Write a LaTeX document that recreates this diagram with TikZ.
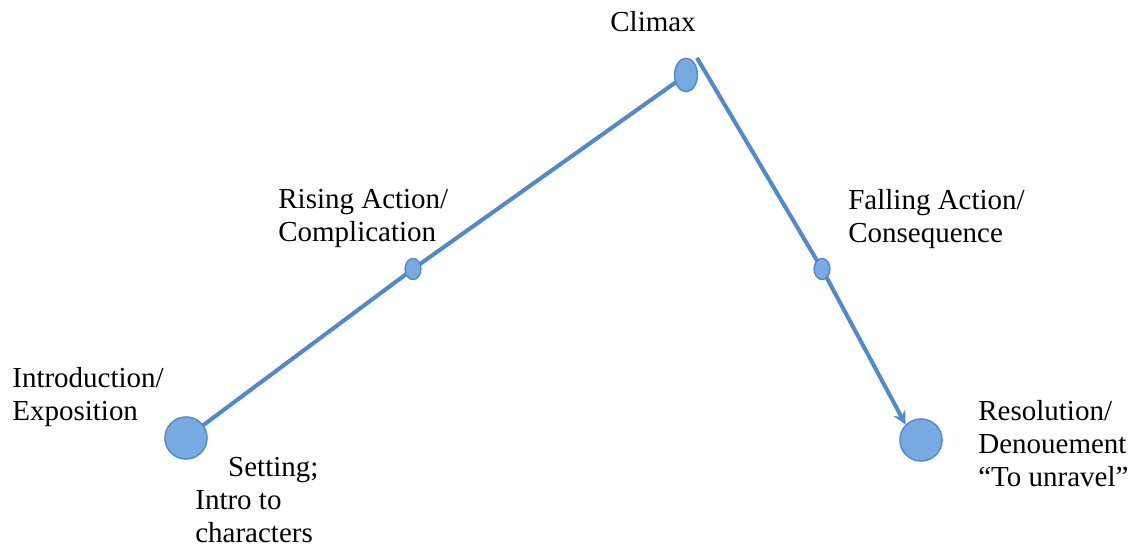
\documentclass[tikz,border=0pt]{standalone}
\usepackage{fontspec}
\setmainfont{Liberation Serif}
\usetikzlibrary{shapes.geometric,backgrounds}
\definecolor{plotline}{RGB}{79,138,204}
\definecolor{plotdot}{RGB}{120,170,225}
\begin{document}
\begin{tikzpicture}[x=0.02cm,y=-0.02cm,>=stealth,line join=round,line cap=round,
	font=\fontsize{16.5}{18.7}\selectfont,
	dot/.style={ellipse,draw=plotline,line width=0.8pt,fill=plotdot,inner sep=0pt},
	label/.style={align=left,inner sep=0pt,anchor=north west}]
	\useasboundingbox (0,0) rectangle (1129,546);
	\path (697,58) coordinate (P);
	\node[dot,minimum width=24pt,minimum height=24pt] (I) at (186,438) {};
	\node[dot,minimum width=9pt,minimum height=12pt] (R) at (413,269) {};
	\node[dot,minimum width=13pt,minimum height=19pt] (C) at (686,75) {};
	\node[dot,minimum width=9pt,minimum height=12pt] (F) at (822,269) {};
	\node[dot,minimum width=24pt,minimum height=24pt] (D) at (921,440) {};
	\begin{pgfonlayer}{background}
	\draw[plotline,line width=2.3pt] (I.center)--(R.center)--(C.center);
	\draw[plotline,line width=2.3pt,->] (P)--(F.center)--(D.north west);
	\end{pgfonlayer}
	\node[label] (tc) at (610,11) {Climax};
	\node[label] (tr) at (278,189) {Rising Action/\\Complication};
	\node[label] (tf) at (848,189) {Falling Action/\\Consequence};
	\node[label] (ti) at (12,367) {Introduction/\\Exposition};
	\node[label] (ts) at (195,457) {\hspace*{18.7pt}Setting;\\Intro to\\characters};
	\node[label] (td) at (978,400) {Resolution/\\Denouement\\``To unravel''};
\end{tikzpicture}
\end{document}
